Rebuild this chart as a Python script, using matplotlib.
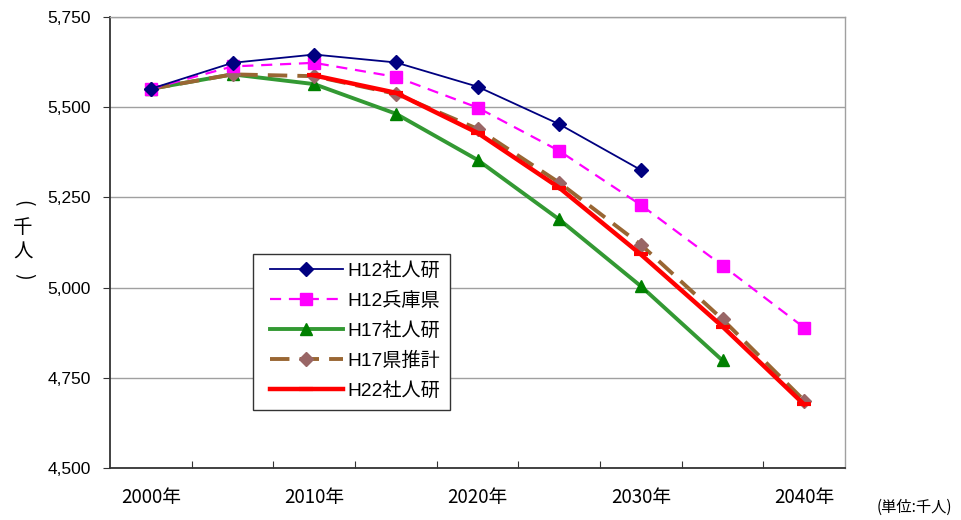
import matplotlib.pyplot as plt
import numpy as np
from matplotlib.patches import Rectangle
from matplotlib.ticker import FuncFormatter

plt.rcParams['font.family'] = ['Liberation Sans', 'Noto Sans CJK JP', 'DejaVu Sans']

nan = np.nan
years = [2000, 2005, 2010, 2015, 2020, 2025, 2030, 2035, 2040]
year_labels = ["2000年", "2010年", "2020年", "2030年", "2040年"]

h12_ipss = [5551, 5623, 5646, 5624, 5557, 5453, 5326, nan, nan]
h12_pref = [5551, 5613, 5623, 5584, 5499, 5379, 5229, 5061, 4889]
h17_ipss = [5551, 5591, 5564, 5482, 5354, 5189, 5004, 4798, nan]
h17_pref = [5551, 5591, 5586, 5537, 5440, 5291, 5119, 4912, 4687]
h22_ipss = [nan, nan, 5588, 5540, 5429, 5277, 5092, 4892, 4676]

narrow = ['Liberation Sans Narrow', 'Noto Sans CJK JP', 'DejaVu Sans']

fig = plt.figure(figsize=(9.61, 5.20), dpi=100)
ax = fig.add_axes([0.1145, 0.1, 0.7648, 0.8673])
x = np.arange(len(years))

ax.plot(x, h12_ipss, color="#000080", lw=1.3, marker="D", ms=7,
        mfc="#000080", mec="#000080", label="H12社人研", zorder=5)
ax.plot(x, h12_pref, color="#FF00FF", lw=1.6, ls=(0, (5, 3.5)), marker="s", ms=8,
        mfc="#FF00FF", mec="#FF00FF", label="H12兵庫県", zorder=4)
ax.plot(x, h17_ipss, color="#339933", lw=2.8, marker="^", ms=8.5,
        mfc="#008000", mec="#008000", label="H17社人研", zorder=3)
ax.plot(x, h17_pref, color="#996633", lw=2.8, ls=(0, (5, 2.6)), marker="D", ms=7.5,
        mfc="#996666", mec="#996666", label="H17県推計", zorder=3)
ax.plot(x, h22_ipss, color="#FF0000", lw=3.2, marker="_", ms=10, mew=3,
        mfc="#FF0000", mec="#FF0000", label="H22社人研", zorder=4)

ax.set_xlim(-0.5, len(years) - 0.5)
ax.set_ylim(4500, 5750)
ax.set_yticks([4500, 4750, 5000, 5250, 5500, 5750])
ax.yaxis.set_major_formatter(FuncFormatter(lambda v, p: f"{int(v):,}"))
ax.tick_params(axis="y", direction="out", length=5, labelsize=12.5, pad=9, color="#333333")
ax.grid(axis="y", color="#A0A0A0", lw=1)
ax.set_axisbelow(True)

# category ticks between points, labels every 10 years
ax.set_xticks(np.arange(0.5, len(years) - 1, 1.0))
ax.set_xticklabels([])
ax.tick_params(axis="x", direction="in", length=5, color="#333333")
for i, lab in zip(range(0, len(years), 2), year_labels):
    ax.text(i, -0.066, lab, transform=ax.get_xaxis_transform(), ha="center", va="center",
            fontsize=13.5, family=narrow)

for s in ["left", "bottom"]:
    ax.spines[s].set_color("#333333")
    ax.spines[s].set_linewidth(1.3)
for s in ["top", "right"]:
    ax.spines[s].set_color("#A0A0A0")
    ax.spines[s].set_linewidth(1)

# legend box drawn separately so its padding matches
fig.patches.append(Rectangle((0.2633, 0.2115), 0.205, 0.3, transform=fig.transFigure,
                             facecolor="white", edgecolor="#333333", lw=1, zorder=10))
leg = fig.legend(*ax.get_legend_handles_labels(), loc="upper left",
                 bbox_to_anchor=(0.281, 0.4962), frameon=False,
                 handlelength=3.8, handletextpad=0.26, labelspacing=0.63,
                 borderpad=0, borderaxespad=0,
                 prop={'family': ['Liberation Sans', 'Noto Sans CJK JP'], 'size': 13.8})
leg.set_zorder(11)

# vertical unit label: (千人)
ylab = [("(", -90), ("千", 0), ("人", 0), (")", -90)]
for k, (ch, rot) in enumerate(ylab):
    fig.text(0.024, 0.61 - k * 0.047, ch, ha="center", va="center", fontsize=14,
             rotation=rot, family=['Noto Sans CJK JP'])
fig.text(0.951, 0.025, "(単位:千人)", ha="center", va="center", fontsize=11, family=narrow)

fig.savefig("out.png", dpi=100)
